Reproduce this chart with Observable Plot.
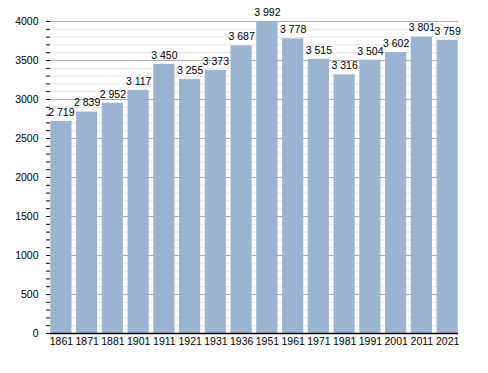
<!DOCTYPE html>
<html><head><meta charset="utf-8">
<script src="https://cdn.jsdelivr.net/npm/d3@7"></script>
<script src="https://cdn.jsdelivr.net/npm/@observablehq/plot@0.6"></script>
<style>body{margin:0;background:#fff;font-family:"Liberation Sans",Arial,sans-serif;}</style>
</head><body><div id="chart"></div>
<script>
const years = ["1861","1871","1881","1901","1911","1921","1931","1936","1951","1961","1971","1981","1991","2001","2011","2021"];
const population = [2719,2839,2952,3117,3450,3255,3373,3687,3992,3778,3515,3316,3504,3602,3801,3759];
const majorTicks = [0,500,1000,1500,2000,2500,3000,3500,4000];
const minorTicks = d3.range(0,4001,100);

const data = years.map((y,i)=>({year:y, value:population[i]}));
const fmt = d3.formatLocale({decimal:".", thousands:" ", grouping:[3], currency:["",""]}).format(",");

const chart = Plot.plot({
  width: 488, height: 373,
  marginLeft: 48, marginRight: 28, marginTop: 21, marginBottom: 40,
  style: {fontFamily: '"Liberation Sans", Arial, sans-serif', fontSize: "10px", background: "#fff", color: "#000"},
  x: {domain: years, padding: 0, round: false, label: null},
  y: {domain: [0,4000], label: null},
  marks: [
    Plot.ruleY(minorTicks.filter(d=>d%500!==0), {stroke:"#e6e6e6", strokeWidth:1, insetLeft:2, insetRight:2}),
    Plot.ruleY(majorTicks.filter(d=>d>0), {stroke:"#ababab", strokeWidth:1, insetLeft:2, insetRight:2}),
    Plot.barY(data, {x:"year", y:"value", fill:"#9bb4d1", insetLeft:2.3, insetRight:2.3}),
    Plot.text(data, {x:"year", y:"value", text:d=>fmt(d.value), dy:-9, fontSize:10.5, fill:"#000"}),
    Plot.axisY({ticks: minorTicks, tickSize: 4, tickFormat: ()=>"", stroke:"#000", strokeWidth:1, dx:2}),
    Plot.axisY({ticks: majorTicks, tickSize: 0, tickPadding: 10, tickFormat: d=>String(d), fontSize:10.5, fill:"#000"}),
    Plot.axisX({tickSize: 0, tickPadding: 4, fontSize:10.5, fill:"#000"}),
    Plot.ruleX([0], {frameAnchor:"left", dx:2, stroke:"#000", strokeWidth:1.3}),
    Plot.ruleY([0], {stroke:"#000", strokeWidth:1.5, insetLeft:2, insetRight:2})
  ]
});
document.getElementById("chart").appendChild(chart);
</script></body></html>
